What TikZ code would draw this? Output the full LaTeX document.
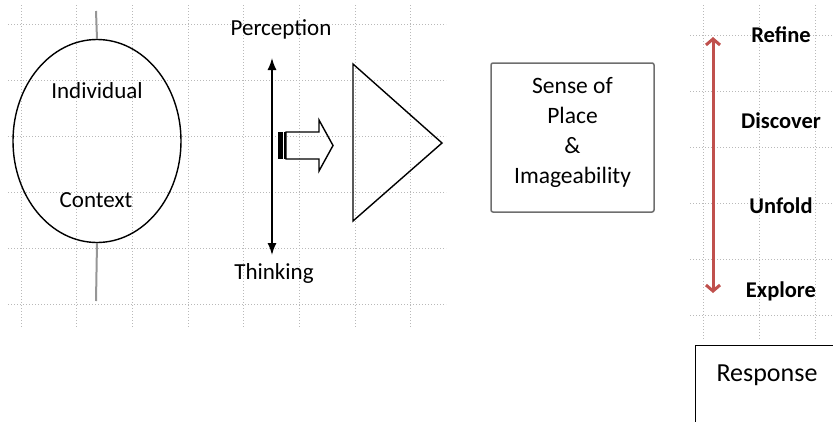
\documentclass[tikz,border=0pt]{standalone}
\usepackage{fontspec}
\setmainfont{Carlito}
\usepackage{xcolor}
\usetikzlibrary{
  positioning,
  arrows.meta,
  shapes.geometric
}
\definecolor{gridgray}{RGB}{185,185,185}
\definecolor{axisgray}{RGB}{150,150,150}
\definecolor{boxgray}{RGB}{110,110,110}
\definecolor{scalered}{RGB}{192,80,77}
\tikzset{
  >=Latex,
  gridline/.style={gridgray,line width=1pt,dash pattern=on 1pt off 2pt},
  axisline/.style={axisgray,line width=2pt},
  outline/.style={draw,line width=1.4pt,line join=miter},
  plain/.style={inner sep=0pt,font=\fontsize{23}{28}\selectfont},
  stagelabel/.style={inner sep=0pt,font=\bfseries\fontsize{22.5}{27}\selectfont},
  twoway/.style={{Latex[length=12pt,width=9pt]}-{Latex[length=12pt,width=9pt]},line width=1.5pt},
  redway/.style={scalered,line width=3pt,{Straight Barb[length=6pt,width=14pt]}-{Straight Barb[length=6pt,width=14pt]}}
}

\begin{document}
\begin{tikzpicture}[x=1pt, y=-1pt, node distance=85.3pt, on grid]
    \useasboundingbox (0,0) rectangle (833,421);

    % dotted grids
    \foreach \gx in {21,76.7,...,412}
      \draw[gridline] (\gx,5) -- (\gx,328);
    \foreach \gy in {24,80,...,305}
      \draw[gridline] (8,\gy) -- (446,\gy);
    \foreach \gx in {703,759,815}
      \draw[gridline] (\gx,5) -- (\gx,340);
    \foreach \gy in {35,91,...,316}
      \draw[gridline] (690,\gy) -- (833,\gy);

    % individual / context
    \coordinate (axistop) at (96,11);
    \coordinate (axisbot) at (96,301);
    \node[ellipse,outline,minimum width=168pt,minimum height=203pt] (person) at (97,141) {};
    \draw[axisline] (axistop) -- (person.north);
    \draw[axisline] (person.south) -- (axisbot);
    \node[plain] (individual) at (97,91) {Individual};
    \node[plain] (context) at (96,200) {Context};

    % perception -- thinking
    \coordinate (pertop) at (272,58);
    \coordinate (perbot) at (272,255);
    \draw[twoway] (pertop) -- (perbot);
    \node[plain] (perception) at (281,29) {Perception};
    \node[plain] (thinking) at (274,273) {Thinking};

    % striped block arrow
    \fill (278,132) rectangle (282.5,159);
    \fill (284,132) rectangle (286,159);
    \draw[outline] (286,132) -- (319,132) -- (319,120) -- (333,145.5)
      -- (319,171) -- (319,159) -- (286,159) -- cycle;

    % triangle
    \draw[outline] (353,64) -- (442,143) -- (353,221) -- cycle;

    % sense of place
    \node[draw=boxgray,line width=1.5pt,rounded corners=2pt,
      minimum width=163pt,minimum height=149pt] (sense) at (572.5,137.5) {};
    \node[plain,align=center,font=\fontsize{23.5}{30}\selectfont,yshift=5pt]
      (sensetext) at (sense.center) {Sense of\\Place\\\&\\Imageability};

    % scale
    \coordinate (scaletop) at (713,37);
    \coordinate (scalebot) at (713,293);
    \draw[redway] (scaletop) -- (scalebot);
    \node[stagelabel] (refine) at (781,35) {Refine};
    \node[stagelabel,below=of refine] (discover) {Discover};
    \node[stagelabel,below=of discover] (unfold) {Unfold};
    \node[stagelabel,below=of unfold] (explore) {Explore};

    % response
    \node[draw,line width=1.4pt,anchor=north west,
      minimum width=160pt,minimum height=100pt] (respbox) at (695,345) {};
    \node[plain,font=\fontsize{26}{30}\selectfont] (response) at (767,375) {Response};
\end{tikzpicture}
\end{document}
